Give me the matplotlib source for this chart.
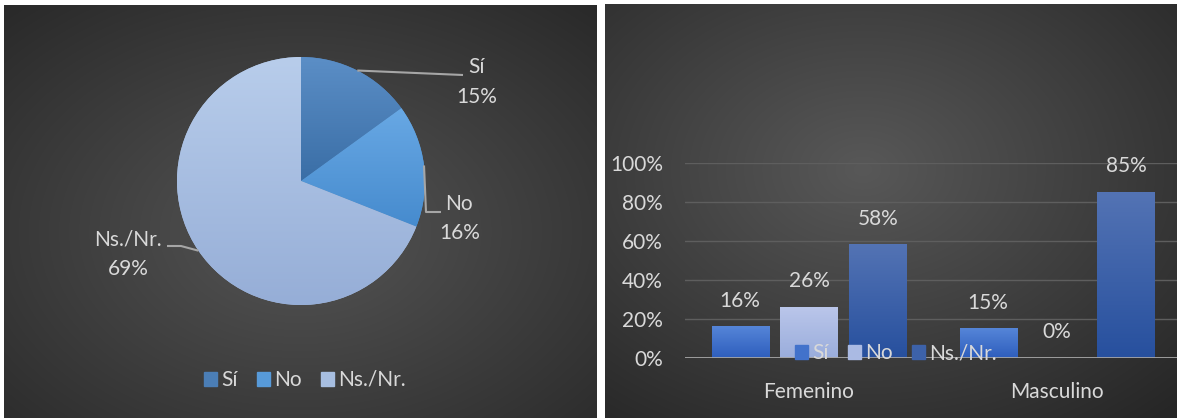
import matplotlib
matplotlib.use('Agg')
import matplotlib.pyplot as plt
import numpy as np
from matplotlib.colors import to_rgb
from matplotlib.patches import Patch

plt.rcParams['font.family'] = ['Lato', 'DejaVu Sans']

# data
labels = ['Sí', 'No', 'Ns./Nr.']
pie_values = [15, 16, 69]
groups = ['Femenino', 'Masculino']
si_vals = [16, 15]
no_vals = [26, 0]
ns_vals = [58, 85]
yticks = [0, 20, 40, 60, 80, 100]

W, H = 1177, 418
TXT = '#d9d9d9'
FS = 15

pie_top = ['#5b8ec6', '#68a8e4', '#b8cdeb']
pie_bot = ['#3a6ea6', '#468bce', '#96aed7']
bar_top = ['#5585d8', '#bac6ea', '#5373b4']
bar_bot = ['#2e5ebd', '#9aaddc', '#27509e']


def mix(a, b, t):
    a, b = np.array(to_rgb(a)), np.array(to_rgb(b))
    return a + (b - a) * t


def vgrad(top, bot, n=64):
    t = np.linspace(0, 1, n)[:, None]
    return (np.array(to_rgb(top)) * (1 - t) + np.array(to_rgb(bot)) * t)[:, None, :]


def radial_bg(rect, cx, cy, c_in, c_out, sx=0.8, sy=0.8):
    a = fig.add_axes(rect)
    a.set_axis_off()
    yy, xx = np.mgrid[0:1:300j, 0:1:300j]
    r = np.sqrt(((xx - cx) / sx) ** 2 + ((yy - cy) / sy) ** 2)
    r = np.clip(r, 0, 1)[..., None]
    img = np.array(to_rgb(c_in)) * (1 - r) + np.array(to_rgb(c_out)) * r
    a.imshow(img, extent=(0, 1, 1, 0), aspect='auto', interpolation='bilinear')
    a.set_xlim(0, 1)
    a.set_ylim(1, 0)
    return a


fig = plt.figure(figsize=(W / 100, H / 100), dpi=100, facecolor='white')

# panel backgrounds
radial_bg([4 / W, 0, 593 / W, 413 / H], 0.5, 0.55, '#555555', '#262626')
radial_bg([605 / W, 0, 572 / W, 414 / H], 0.45, 0.4, '#585858', '#262626')

# ---- pie ----
ax = fig.add_axes([0, 0, 1, 1])
ax.set_axis_off()
cx, cy, rad = 301, H - 181, 124
wedges, _ = ax.pie(pie_values, startangle=90, counterclock=False, center=(cx, cy),
                   radius=rad, colors=[mix(t, b, 0.5) for t, b in zip(pie_top, pie_bot)],
                   wedgeprops=dict(linewidth=0))
for w, t, b in zip(wedges, pie_top, pie_bot):
    bb = w.get_path().get_extents()
    im = ax.imshow(vgrad(t, b), extent=(bb.x0, bb.x1, bb.y0, bb.y1), aspect='auto',
                   interpolation='bilinear', zorder=2)
    im.set_clip_path(w)

# label positions (image coords): name, pct, leader elbow points
lab_pos = [((477, 67), (477, 97), [(463, 75)]),
           ((459, 204), (460, 233), [(426, 212), (441, 212)]),
           ((128, 240), (128, 269), [(181, 246), (167, 246)])]
for w, name, val, (pn, pp, elbows) in zip(wedges, labels, pie_values, lab_pos):
    ang = np.deg2rad((w.theta1 + w.theta2) / 2)
    ex, ey = cx + rad * np.cos(ang), cy + rad * np.sin(ang)
    xs = [ex] + [p[0] for p in elbows]
    ys = [ey] + [H - p[1] for p in elbows]
    ax.plot(xs, ys, color='#a6a6a6', lw=1.5, zorder=3, solid_capstyle='butt')
    ax.text(pn[0], H - pn[1], name, color=TXT, fontsize=FS, ha='center', va='center')
    ax.text(pp[0], H - pp[1], f'{val}%', color=TXT, fontsize=FS, ha='center', va='center')
ax.set_aspect('auto')
ax.set_xlim(0, W)
ax.set_ylim(0, H)

pie_handles = [Patch(color=mix(t, b, 0.5), label=l) for t, b, l in zip(pie_top, pie_bot, labels)]
fig.legend(handles=pie_handles, loc='center', bbox_to_anchor=(305 / W, 1 - 380 / H), ncol=3,
           frameon=False, fontsize=FS, labelcolor=TXT, handlelength=0.65, handleheight=0.65,
           handletextpad=0.2, columnspacing=0.9)

# ---- bars ----
bx = fig.add_axes([685 / W, (H - 358) / H, 496 / W, 195 / H])
bx.patch.set_alpha(0)
x = np.arange(len(groups))
bw = 0.23
step = 0.278
bar_handles = []
for i, (name, vals) in enumerate(zip(labels, [si_vals, no_vals, ns_vals])):
    pos = x + (i - 1) * step
    bars = bx.bar(pos, vals, width=bw, color=mix(bar_top[i], bar_bot[i], 0.5), zorder=2)
    for b, v in zip(bars, vals):
        if v > 0:
            bx.imshow(vgrad(bar_top[i], bar_bot[i]), extent=(b.get_x(), b.get_x() + bw, 0, v),
                      aspect='auto', interpolation='bilinear', zorder=2.5)
        bx.annotate(f'{v}%', (b.get_x() + bw / 2, v), xytext=(0, 26), textcoords='offset pixels',
                    ha='center', va='center', color=TXT, fontsize=FS)
    bar_handles.append(Patch(color=mix(bar_top[i], bar_bot[i], 0.5), label=name))

bx.set_xlim(-0.5, 1.5)
bx.set_ylim(0, 100)
bx.set_yticks(yticks)
bx.set_yticklabels([f'{v}%' for v in yticks])
bx.set_xticks(x)
bx.set_xticklabels(groups)
bx.tick_params(length=0, labelsize=FS, colors=TXT)
bx.tick_params(axis='y', pad=16)
bx.tick_params(axis='x', pad=17)
bx.yaxis.grid(True, color='#5e5e5e', lw=1)
bx.set_axisbelow(True)
for s in bx.spines.values():
    s.set_visible(False)
bx.axhline(0, color='#a6a6a6', lw=2, zorder=4)

fig.legend(handles=bar_handles, loc='center', bbox_to_anchor=(896 / W, 1 - 353 / H), ncol=3,
           frameon=False, fontsize=FS, labelcolor=TXT, handlelength=0.65, handleheight=0.65,
           handletextpad=0.2, columnspacing=0.9)

fig.savefig('out.png', dpi=100, facecolor='white')
